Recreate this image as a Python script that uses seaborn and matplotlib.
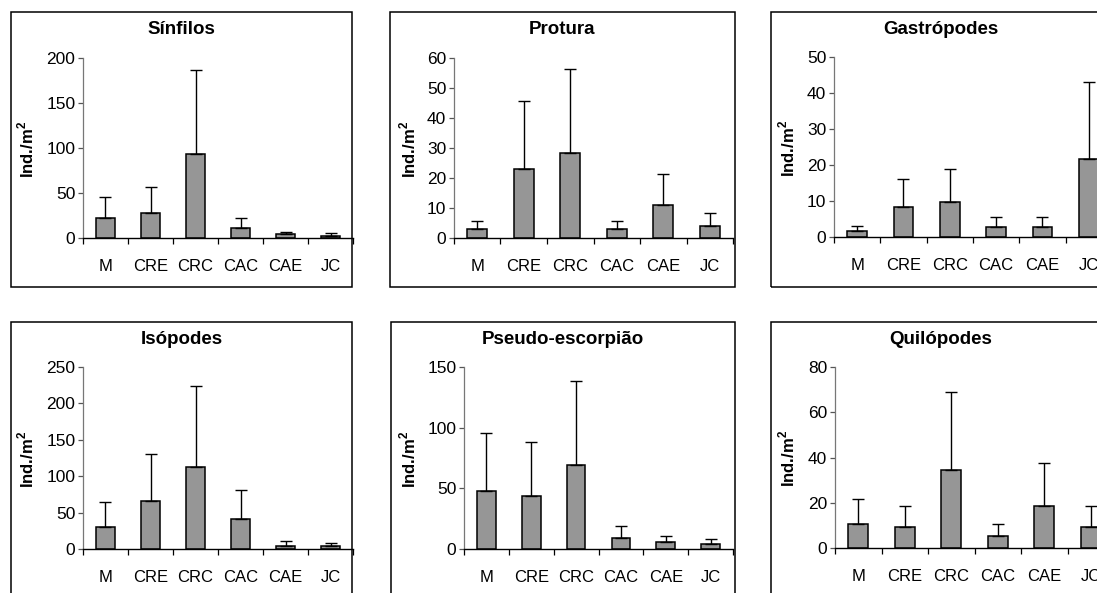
import numpy as np
import pandas as pd
import matplotlib
matplotlib.use("Agg")
import matplotlib.pyplot as plt
from matplotlib.patches import Rectangle
import seaborn as sns

# ---------------- data ----------------
categories = ["M", "CRE", "CRC", "CAC", "CAE", "JC"]

titles = ["Sínfilos", "Protura", "Gastrópodes",
          "Isópodes", "Pseudo-escorpião", "Quilópodes"]

sinfilos_mean = [22, 28, 93, 11, 4, 2]
sinfilos_sd = [23.5, 28.5, 94, 11, 3, 3.3]

protura_mean = [2.9, 22.9, 28.3, 2.9, 11, 4]
protura_sd = [2.8, 22.8, 28.1, 2.8, 10.3, 4.3]

gastropodes_mean = [1.6, 8.2, 9.6, 2.9, 2.9, 21.6]
gastropodes_sd = [1.4, 8.0, 9.4, 2.7, 2.7, 21.5]

isopodes_mean = [30.6, 66, 112, 41.5, 3.6, 3.6]
isopodes_sd = [33.7, 64, 111.5, 39.7, 6.9, 5.1]

pseudo_mean = [48, 44, 69.5, 9.3, 5.5, 3.8]
pseudo_sd = [47.8, 44, 69.3, 9.3, 4.9, 4.1]

quilopodes_mean = [10.8, 9.3, 34.6, 5.2, 18.6, 9.3]
quilopodes_sd = [10.9, 9.3, 34.5, 5.6, 18.8, 9.3]

y_max = [200, 60, 50, 250, 150, 80]
y_step = [50, 10, 10, 50, 50, 20]

means = [sinfilos_mean, protura_mean, gastropodes_mean,
         isopodes_mean, pseudo_mean, quilopodes_mean]
sds = [sinfilos_sd, protura_sd, gastropodes_sd,
       isopodes_sd, pseudo_sd, quilopodes_sd]

# ---------------- layout (pixels) ----------------
W, H = 1097, 593
axes_px = [(83, 353, 58, 238), (454, 733, 58, 238), (834, 1112, 57, 237),
           (83, 353, 367, 549), (464, 733, 367, 549), (835, 1114, 367, 548)]
box_px = [(11, 352, 12, 287), (390, 735, 12, 287), (771, 1110, 12, 287),
          (11, 352, 322, 600), (391, 735, 322, 600), (771, 1110, 322, 600)]
ylabel_x = [26, 408, 787, 26, 408, 787]

plt.rcParams["font.family"] = ["Liberation Sans", "DejaVu Sans"]
plt.rcParams["mathtext.fontset"] = "custom"
plt.rcParams["mathtext.rm"] = "Liberation Sans"
plt.rcParams["mathtext.bf"] = "Liberation Sans:bold"

fig = plt.figure(figsize=(W / 100, H / 100), dpi=100)
fig.patch.set_facecolor("white")

bar_color = "#969696"

for i in range(6):
    l, r, t, b = axes_px[i]
    ax = fig.add_axes([l / W, 1 - b / H, (r - l) / W, (b - t) / H])
    df = pd.DataFrame({"cat": categories, "val": means[i]})
    sns.barplot(data=df, x="cat", y="val", ax=ax, color=bar_color,
                saturation=1, edgecolor="black", linewidth=1.1,
                width=0.42, errorbar=None)
    x = np.arange(len(categories))
    ax.errorbar(x, means[i], yerr=[np.zeros(len(x)), sds[i]], fmt="none",
                ecolor="black", elinewidth=1.0, capsize=4.5, capthick=1.0,
                zorder=3)
    ax.set_xlim(-0.5, len(categories) - 0.5)
    ax.set_ylim(0, y_max[i])
    ax.set_yticks(np.arange(0, y_max[i] + 0.1, y_step[i]))
    ax.set_facecolor("none")
    for s in ["top", "right"]:
        ax.spines[s].set_visible(False)
    ax.spines["left"].set_color("#777777")
    ax.spines["left"].set_linewidth(0.9)
    ax.spines["bottom"].set_color("black")
    ax.spines["bottom"].set_linewidth(1.0)
    ax.set_xlabel("")
    ax.set_ylabel("")
    ax.set_xticks(x)
    ax.set_xticklabels(categories)
    ax.set_xticks(np.arange(-0.5, len(categories)), minor=True)
    ax.tick_params(axis="x", which="major", length=0, pad=15, labelsize=12)
    ax.tick_params(axis="x", which="minor", length=4, width=0.9,
                   direction="out", color="black")
    ax.tick_params(axis="y", which="major", length=3.5, width=0.9,
                   direction="out", color="#555555", pad=2, labelsize=12.5)
    for lab in ax.get_xticklabels() + ax.get_yticklabels():
        lab.set_color("black")

    ax.set_ylabel(r"Ind./m$^{\mathbf{2}}$", fontsize=12, fontweight="bold")
    yc = (t + b) / 2 + 1
    ax.yaxis.set_label_coords(ylabel_x[i] / W, 1 - yc / H,
                              transform=fig.transFigure)
    ax.yaxis.label.set_va("center")

    bl, br, bt, bb = box_px[i]
    fig.add_artist(Rectangle((bl / W, 1 - bb / H), (br - bl) / W, (bb - bt) / H,
                             transform=fig.transFigure, fill=False,
                             edgecolor="black", linewidth=1.1, zorder=0))
    fig.text((bl + br) / 2 / W, 1 - (bt + 17.5) / H, titles[i],
             ha="center", va="center", fontsize=13.5, fontweight="bold")

fig.savefig("out.png", dpi=100)
